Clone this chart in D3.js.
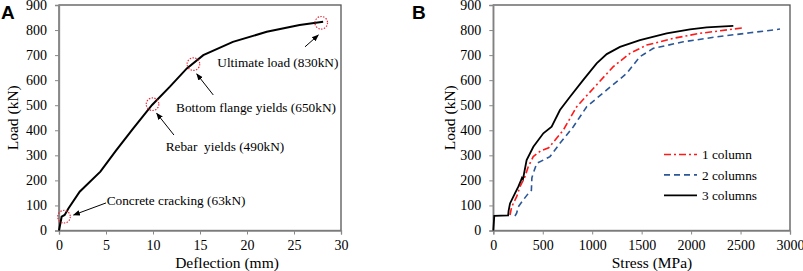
<!DOCTYPE html>
<html lang="en">
<head>
<meta charset="UTF-8">
<title>Load curves</title>
<script src="https://d3js.org/d3.v7.min.js"></script>
<style>
  body { margin: 0; background: #fff; }
</style>
</head>
<body>
<svg width="803" height="271" font-family="Liberation Serif, Times New Roman, serif"></svg>
<script>
// panel A : load vs deflection
var deflection = [0, 0.28, 0.6, 1.0, 2.2, 4.4, 6.1, 7.9, 9.9, 11.8, 13.6, 15.35, 18.5, 22.1, 25.6, 28.1];
var loadA      = [0, 55, 62, 88, 155, 235, 321, 408, 501, 574, 647, 700, 753, 793, 820, 833];

// marked events (circle point, arrow tail, arrow head, text start)
var eventLabels = ['Concrete cracking (63kN)', 'Rebar  yields (490kN)', 'Bottom flange yields (650kN)', 'Ultimate load (830kN)'];
var eventX     = [0.53, 9.95, 14.3, 27.9];
var eventY     = [55, 504, 664, 829];
var arrowFromX = [5.0, 12.23, 16.41, 26.17];
var arrowFromY = [110, 381, 541, 733];
var arrowToX   = [1.55, 10.39, 14.65, 27.59];
var arrowToY   = [62, 468, 625, 780];
var textX      = [5.07, 11.35, 12.45, 16.84];
var textY      = [102, 317, 471, 654];

// panel B : load vs stress
var stress3 = [0, 10, 150, 155, 169, 219, 253, 280, 290, 300, 337, 405, 506, 590, 674, 776, 910, 1045, 1147, 1281, 1483, 1753, 1989, 2158, 2427];
var load3   = [0, 58, 60, 79, 108, 148, 175, 200, 210, 205, 281, 334, 388, 414, 481, 534, 601, 667, 704, 733, 760, 787, 803, 811, 817];
var stress1 = [169, 186, 236, 270, 320, 354, 404, 480, 560, 708, 843, 1011, 1213, 1382, 1551, 1820, 2090, 2292, 2528];
var load1   = [62, 95, 135, 175, 215, 255, 295, 318, 330, 401, 494, 567, 654, 707, 740, 767, 787, 797, 809];
var stress2 = [219, 236, 253, 303, 354, 385, 390, 404, 439, 506, 573, 674, 809, 944, 1147, 1349, 1483, 1618, 1921, 2259, 2596, 2899];
var load2   = [58, 69, 95, 122, 148, 160, 210, 228, 268, 281, 295, 348, 414, 494, 561, 627, 694, 727, 753, 773, 789, 804];
var seriesNames = ['1 column', '2 columns', '3 columns'];

var loadTicks = d3.range(0, 901, 100);
var deflTicks = d3.range(0, 31, 5);
var stressTicks = d3.range(0, 3001, 500);

var svg = d3.select('svg');
var plotTop = 5, plotBottom = 230.5;

function panel(left, right, xMax, xTicks, xTitle, xTitleX, yTitleX, letter, letterX) {
    var x = d3.scaleLinear().domain([0, xMax]).range([left, right]);
    var y = d3.scaleLinear().domain([0, 900]).range([plotBottom, plotTop]);
    var g = svg.append('g');

    g.append('rect')
        .attr('x', left).attr('y', plotTop)
        .attr('width', right - left).attr('height', plotBottom - plotTop)
        .attr('fill', 'none').attr('stroke', '#555').attr('stroke-width', 1.3);

    var ax = g.append('g').attr('transform', 'translate(0,' + plotBottom + ')')
        .call(d3.axisBottom(x).tickValues(xTicks).tickSize(4).tickPadding(6).tickFormat(d3.format('d')));
    var ay = g.append('g').attr('transform', 'translate(' + left + ',0)')
        .call(d3.axisLeft(y).tickValues(loadTicks).tickSize(4).tickPadding(8));
    [ax, ay].forEach(function (a) {
        a.attr('font-family', null);
        a.select('.domain').attr('stroke', '#888').attr('stroke-width', 1.3);
        a.selectAll('.tick line').attr('stroke', '#888');
        a.selectAll('text').attr('font-size', 14).attr('fill', '#000');
    });

    g.append('text').attr('x', xTitleX).attr('y', 268)
        .attr('text-anchor', 'middle').attr('font-size', 15.5).text(xTitle);
    g.append('text').attr('transform', 'translate(' + yTitleX + ',' + ((plotTop + plotBottom) / 2) + ') rotate(-90)')
        .attr('dy', '0.35em').attr('text-anchor', 'middle').attr('font-size', 15.5).text('Load (kN)');
    g.append('text').attr('x', letterX).attr('y', 18.5)
        .attr('font-family', 'Liberation Sans, Arial, sans-serif').attr('font-weight', 'bold')
        .attr('font-size', 19).text(letter);

    return {x: x, y: y, g: g};
}

// ---- A
var A = panel(59, 341, 30, deflTicks, 'Deflection (mm)', 227, 13, 'A', 1);
var lineA = d3.line().x(function (d) { return A.x(d[0]); }).y(function (d) { return A.y(d[1]); });
A.g.append('path').datum(d3.zip(deflection, loadA))
    .attr('d', lineA).attr('fill', 'none').attr('stroke', '#000').attr('stroke-width', 2);

svg.append('defs').append('marker')
    .attr('id', 'arr').attr('viewBox', '0 0 10 10').attr('refX', 9).attr('refY', 5)
    .attr('markerWidth', 7).attr('markerHeight', 7).attr('orient', 'auto')
    .append('path').attr('d', 'M0,1 L10,5 L0,9 z').attr('fill', '#000');

eventLabels.forEach(function (lab, i) {
    A.g.append('circle').attr('cx', A.x(eventX[i])).attr('cy', A.y(eventY[i])).attr('r', 6.3)
        .attr('fill', 'none').attr('stroke', '#e8283a').attr('stroke-width', 1.2).attr('stroke-dasharray', '1.4,1.4');
    A.g.append('line')
        .attr('x1', A.x(arrowFromX[i])).attr('y1', A.y(arrowFromY[i]))
        .attr('x2', A.x(arrowToX[i])).attr('y2', A.y(arrowToY[i]))
        .attr('stroke', '#000').attr('stroke-width', 1).attr('marker-end', 'url(#arr)');
    A.g.append('text').attr('x', A.x(textX[i])).attr('y', A.y(textY[i]))
        .attr('font-size', 13.3).style('white-space', 'pre').text(lab);
});

// ---- B
var B = panel(493.3, 790, 3000, stressTicks, 'Stress (MPa)', 652, 450, 'B', 412);
var lineB = d3.line().x(function (d) { return B.x(d[0]); }).y(function (d) { return B.y(d[1]); });
var series = [
    {name: seriesNames[0], pts: d3.zip(stress1, load1), color: '#ff1a1a', dash: '7,3,2,3', w: 1.6},
    {name: seriesNames[1], pts: d3.zip(stress2, load2), color: '#2b5797', dash: '6,4', w: 1.6},
    {name: seriesNames[2], pts: d3.zip(stress3, load3), color: '#000', dash: null, w: 1.8}
];
series.forEach(function (s, i) {
    B.g.append('path').datum(s.pts).attr('d', lineB)
        .attr('fill', 'none').attr('stroke', s.color).attr('stroke-width', s.w)
        .attr('stroke-dasharray', s.dash);
    var ly = 154.5 + i * 20.4;
    B.g.append('line').attr('x1', 664).attr('x2', 697).attr('y1', ly).attr('y2', ly)
        .attr('stroke', s.color).attr('stroke-width', s.w).attr('stroke-dasharray', s.dash);
    B.g.append('text').attr('x', 702).attr('y', ly).attr('dy', '0.35em')
        .attr('font-size', 13.3).text(s.name);
});
</script>
</body>
</html>
